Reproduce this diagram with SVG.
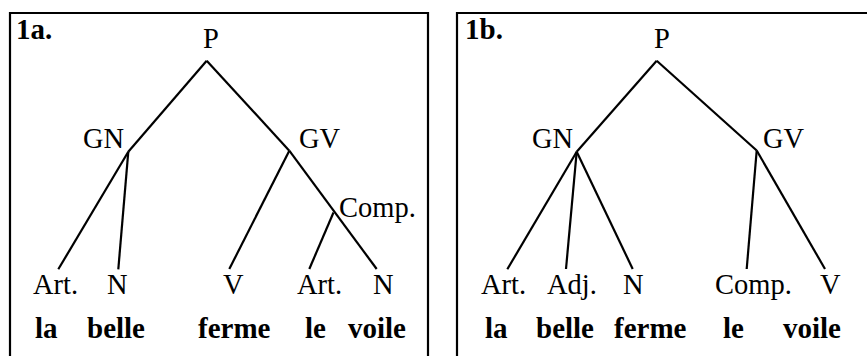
<svg xmlns="http://www.w3.org/2000/svg" width="867" height="356" viewBox="0 0 867 356">
<style>
text{font-family:"Liberation Serif","Times New Roman",serif;font-size:28.5px;fill:#000}
.b{font-weight:bold;font-size:29px}
.frame{fill:none;stroke:#000;stroke-width:2.2}
#connectors line{stroke:#000;stroke-width:2.2;stroke-linecap:butt}
</style>
<rect width="867" height="356" fill="#fff"/>
<g id="frames">
<polyline class="frame" points="10,360 10,13 428,13 428,360"/>
<polyline class="frame" points="457,360 457,13 870,13"/>
</g>
<g id="connectors">
<line x1="206.7" y1="60.7" x2="128.3" y2="151.7"/>
<line x1="206.7" y1="60.7" x2="289.3" y2="150.7"/>
<line x1="128.3" y1="151.7" x2="58.3" y2="269.3"/>
<line x1="128.3" y1="151.7" x2="118.3" y2="269.3"/>
<line x1="289.3" y1="150.7" x2="229.3" y2="269"/>
<line x1="289.3" y1="150.7" x2="376.7" y2="269"/>
<line x1="333.5" y1="212.5" x2="309.3" y2="269"/>
<line x1="656.7" y1="60.7" x2="576.7" y2="151.7"/>
<line x1="656.7" y1="60.7" x2="756.7" y2="150.5"/>
<line x1="576.7" y1="151.7" x2="507.3" y2="269.3"/>
<line x1="576.7" y1="151.7" x2="566" y2="269"/>
<line x1="576.7" y1="151.7" x2="632.7" y2="269"/>
<line x1="756.7" y1="150.5" x2="746.7" y2="269"/>
<line x1="756.7" y1="150.5" x2="825" y2="269"/>
</g>
<g id="labels">
<text class="b" x="16" y="39">1a.</text>
<text class="b" x="465" y="39">1b.</text>
</g>
<g id="a-P"><text x="203" y="48">P</text></g>
<g id="a-GN"><text x="83" y="148">GN</text></g>
<g id="a-GV"><text x="299" y="148">GV</text></g>
<g id="a-Comp"><text x="339" y="217">Comp.</text></g>
<g id="a-Art1"><text x="33" y="294">Art.</text></g>
<g id="a-N1"><text x="107" y="294">N</text></g>
<g id="a-V"><text x="223" y="294">V</text></g>
<g id="a-Art2"><text x="297" y="294">Art.</text></g>
<g id="a-N2"><text x="373" y="294">N</text></g>
<g id="a-words">
<text class="b" x="35" y="338">la</text>
<text class="b" x="87" y="338">belle</text>
<text class="b" x="198" y="338">ferme</text>
<text class="b" x="305" y="338">le</text>
<text class="b" x="348" y="338">voile</text>
</g>
<g id="b-P"><text x="654" y="48">P</text></g>
<g id="b-GN"><text x="532" y="148">GN</text></g>
<g id="b-GV"><text x="763" y="148">GV</text></g>
<g id="b-Art"><text x="481" y="294">Art.</text></g>
<g id="b-Adj"><text x="547" y="294">Adj.</text></g>
<g id="b-N"><text x="623" y="294">N</text></g>
<g id="b-Comp"><text x="715" y="294">Comp.</text></g>
<g id="b-V"><text x="820" y="294">V</text></g>
<g id="b-words">
<text class="b" x="485" y="338">la</text>
<text class="b" x="536" y="338">belle</text>
<text class="b" x="614" y="338">ferme</text>
<text class="b" x="723" y="338">le</text>
<text class="b" x="783" y="338">voile</text>
</g>
</svg>
